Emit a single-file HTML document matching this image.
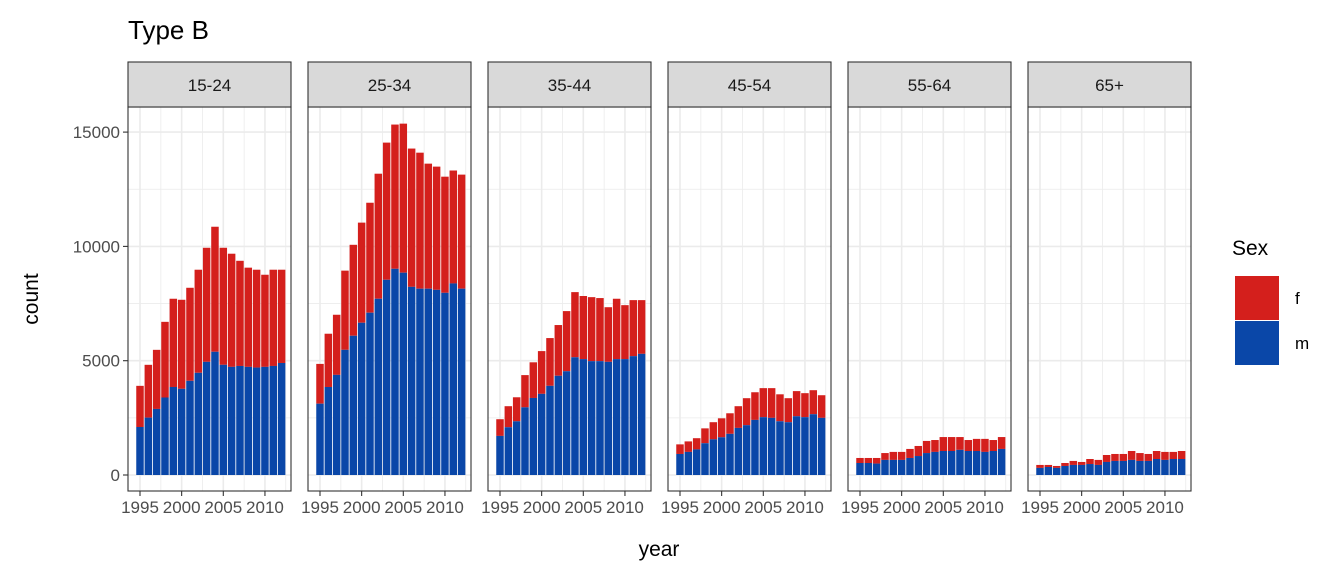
<!DOCTYPE html>
<html><head><meta charset="utf-8"><style>
body{margin:0;background:#fff;}
svg text{font-family:"Liberation Sans",Arial,sans-serif;}
</style></head><body>
<svg id="chart" width="1344" height="576" viewBox="0 0 1344 576"></svg>
<script>
const years=[1995,1996,1997,1998,1999,2000,2001,2002,2003,2004,2005,2006,2007,2008,2009,2010,2011,2012];
const groups=["15-24","25-34","35-44","45-54","55-64","65+"];
const totalA=[3900,4820,5475,6700,7710,7665,8190,8980,9940,10860,9940,9680,9370,9070,8980,8760,8980,8980];
const maleA=[2100,2510,2890,3390,3850,3770,4120,4470,4950,5390,4820,4730,4770,4730,4700,4730,4770,4900];
const totalB=[4860,6180,7010,8940,10070,11040,11910,13180,14540,15330,15370,14280,14100,13620,13490,13050,13320,13140];
const maleB=[3120,3850,4380,5475,6090,6660,7100,7710,8540,9020,8850,8230,8150,8150,8100,7970,8380,8150];
const totalC=[2440,3010,3400,4370,4930,5420,5990,6560,7170,8000,7830,7780,7740,7340,7710,7430,7650,7650];
const maleC=[1710,2090,2350,2960,3370,3550,3900,4340,4540,5150,5070,4980,4980,4950,5070,5070,5200,5300];
const totalD=[1340,1470,1610,2040,2310,2480,2700,3010,3360,3620,3800,3800,3530,3360,3670,3580,3710,3490];
const maleD=[920,1010,1120,1390,1560,1650,1800,2060,2180,2410,2530,2500,2350,2310,2570,2530,2660,2500];
const totalE=[745,745,745,960,1010,1010,1140,1270,1490,1530,1660,1660,1660,1530,1580,1580,1530,1660];
const maleE=[525,525,500,660,660,660,745,830,960,1010,1050,1050,1100,1050,1050,1010,1050,1140];
const totalF=[440,440,395,525,615,570,700,660,875,920,920,1050,960,920,1050,1010,1010,1050];
const maleF=[310,350,310,395,440,440,480,440,570,615,615,660,615,615,700,660,700,700];
const yTicks=[0,5000,10000,15000];
const xTicks=[1995,2000,2005,2010];

const totals=[totalA,totalB,totalC,totalD,totalE,totalF];
const males=[maleA,maleB,maleC,maleD,maleE,maleF];
const NS="http://www.w3.org/2000/svg";
const svg=document.getElementById('chart');
function mk(tag,attrs,parent){const e=document.createElementNS(NS,tag);for(const k in attrs)e.setAttribute(k,attrs[k]);(parent||svg).appendChild(e);return e;}
const pTop=107,pBot=491,pW=163,gap=17,left0=128;
const y=v=>475-v*0.02286;
const pxYr=8.33;
const x=(pl,yr)=>pl+12+(yr-1995)*pxYr;
const RED="#d41f1c",BLUE="#0a47a8";

let t=mk('text',{x:128,y:39,'font-size':26,fill:'#000'});
t.textContent='Type B';

groups.forEach((g,i)=>{
  const pl=left0+i*(pW+gap);
  const gp=mk('g',{});
  
  
  mk('rect',{x:pl,y:pTop,width:pW,height:pBot-pTop,fill:'#fff'},gp);
  // minor grid
  for(let v=2500;v<17000;v+=5000){mk('line',{x1:pl,x2:pl+pW,y1:y(v),y2:y(v),stroke:'#ebebeb','stroke-width':0.8},gp);}
  for(let yr=1992.5;yr<2014;yr+=5){const xx=x(pl,yr);if(xx>pl&&xx<pl+pW)mk('line',{x1:xx,x2:xx,y1:pTop,y2:pBot,stroke:'#ebebeb','stroke-width':0.8},gp);}
  yTicks.forEach(v=>mk('line',{x1:pl,x2:pl+pW,y1:y(v),y2:y(v),stroke:'#ebebeb','stroke-width':1.6},gp));
  xTicks.forEach(v=>mk('line',{x1:x(pl,v),x2:x(pl,v),y1:pTop,y2:pBot,stroke:'#ebebeb','stroke-width':1.6},gp));
  const bw=pxYr*0.9;
  years.forEach((yr,j)=>{
    const tot=totals[i][j],m=males[i][j];
    const bf=mk('rect',{x:x(pl,yr)-bw/2,y:y(tot),width:bw,height:y(m)-y(tot),fill:RED},gp);
    
    
    const bm=mk('rect',{x:x(pl,yr)-bw/2,y:y(m),width:bw,height:y(0)-y(m),fill:BLUE},gp);
    
    
  });
  mk('rect',{x:pl,y:pTop,width:pW,height:pBot-pTop,fill:'none',stroke:'#333','stroke-width':1.1},gp);
  const st=mk('rect',{x:pl,y:62,width:pW,height:pTop-62,fill:'#d9d9d9',stroke:'#333','stroke-width':1.1},gp);
  
  
  const sl=mk('text',{x:pl+pW/2,y:91,'font-size':17,fill:'#1a1a1a','text-anchor':'middle'},gp);
  
  
  sl.textContent=g;
  xTicks.forEach(v=>{
    mk('line',{x1:x(pl,v),x2:x(pl,v),y1:pBot,y2:pBot+5,stroke:'#333','stroke-width':1.1},gp);
    const tl=mk('text',{x:x(pl,v),y:pBot+22,'font-size':17,fill:'#4d4d4d','text-anchor':'middle'},gp);
    
    
    tl.textContent=v;
  });
});
yTicks.forEach(v=>{
  mk('line',{x1:123,x2:128,y1:y(v),y2:y(v),stroke:'#333','stroke-width':1.1});
  const tl=mk('text',{x:120,y:y(v)+6,'font-size':17,fill:'#4d4d4d','text-anchor':'end'});
  
  
  tl.textContent=v;
});
let yt=mk('text',{x:0,y:0,'font-size':21,fill:'#000','text-anchor':'middle',transform:'translate(38,299) rotate(-90)'});
yt.textContent='count';
let xt=mk('text',{x:659,y:556,'font-size':21,fill:'#000','text-anchor':'middle'});
xt.textContent='year';
let lt=mk('text',{x:1232,y:255,'font-size':21,fill:'#000'});
lt.textContent='Sex';
[['f',RED,276],['m',BLUE,321]].forEach(([lab,c,yy])=>{
  const k=mk('rect',{x:1235,y:yy,width:44,height:44,fill:c});
  
  
  const tx=mk('text',{x:1295,y:yy+28,'font-size':17,fill:'#000'});
  
  
  tx.textContent=lab;
});
</script>
</body></html>
